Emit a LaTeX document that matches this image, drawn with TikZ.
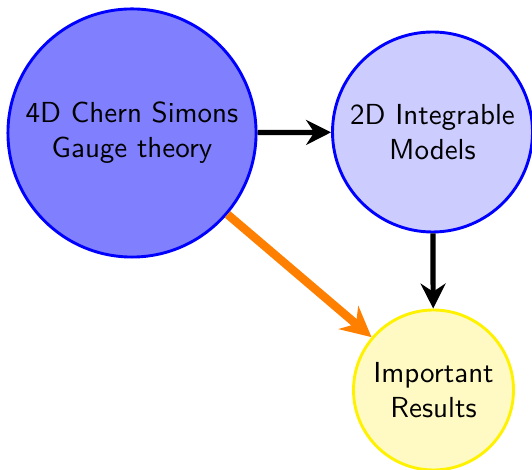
\documentclass[tikz,border=0pt]{standalone}
\usetikzlibrary{arrows.meta}
\definecolor{resultfill}{RGB}{255,250,196}
\begin{document}
\begin{tikzpicture}[x=0.345pt,y=-0.345pt,
  font=\sffamily,
  bubble/.style={circle, draw=blue, line width=1pt, inner sep=0pt, align=center},
  yellowbubble/.style={circle, draw=yellow, line width=1pt, inner sep=0pt, align=center, fill=resultfill},
  flow/.style={line width=1.8pt, -{Stealth[length=8.6pt,width=8.6pt]}},
  mainflow/.style={draw=orange, line width=2.9pt, -{Stealth[length=10.4pt,width=10.4pt]}}]
  \useasboundingbox (0,0) rectangle (532,470);
  \node[bubble, fill=blue!50, minimum size=85.6pt] (cs) at (132,133) {4D Chern Simons\\Gauge theory};
  \node[bubble, fill=blue!20, minimum size=69pt] (im) at (432.5,132) {2D Integrable\\Models};
  \node[yellowbubble, minimum size=55.2pt] (res) at (433.5,390) {Important\\Results};
  \draw[flow] (cs) -- (im);
  \draw[flow] (im) -- (res);
  \draw[mainflow] (cs) -- (res);
\end{tikzpicture}
\end{document}
